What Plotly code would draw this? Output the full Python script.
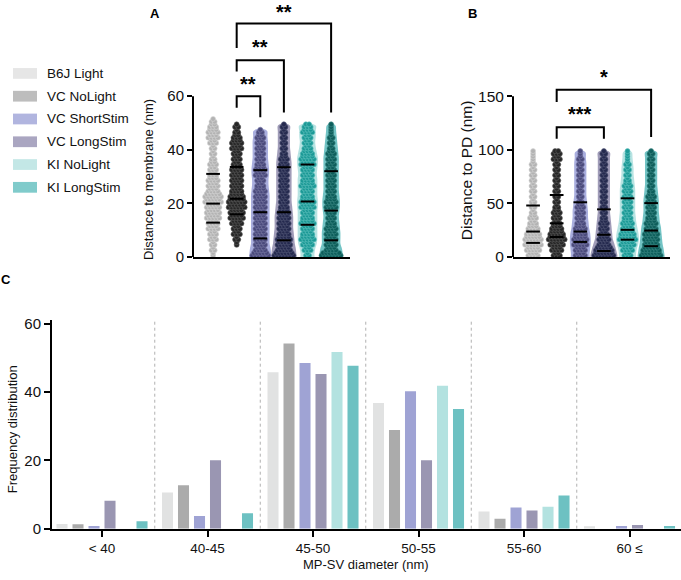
import plotly.graph_objects as go

# ---------------- DATA ----------------
groups = ["B6J Light", "VC NoLight", "VC ShortStim", "VC LongStim", "KI NoLight", "KI LongStim"]
size_bins = ["< 40", "40-45", "45-50", "50-55", "55-60", "60 ≤"]

# Panel C: frequency distribution of MP-SV diameter
freq_b6j_light = [1.4, 10.6, 45.8, 36.8, 5.0, 0.7]
freq_vc_nolight = [1.3, 12.7, 54.2, 28.9, 2.9, 0.0]
freq_vc_shortstim = [0.8, 3.7, 48.5, 40.2, 6.2, 0.8]
freq_vc_longstim = [8.2, 20.0, 45.3, 20.0, 5.3, 1.1]
freq_ki_nolight = [0.0, 0.0, 51.7, 41.8, 6.4, 0.0]
freq_ki_longstim = [2.2, 4.5, 47.7, 35.0, 9.7, 0.8]

# Panel A: distance to membrane, counts per 2 nm bin (0-52 nm), estimated
memb_bin = 2.0
memb_b6j_light = [1, 2, 2, 3, 3, 4, 4, 5, 5, 5, 6, 6, 4, 4, 4, 3, 3, 3, 2, 2, 2, 3, 4, 4, 3, 2]
memb_vc_nolight = [0, 0, 1, 2, 3, 3, 4, 5, 5, 6, 6, 5, 4, 4, 4, 4, 4, 3, 3, 3, 4, 4, 3, 2, 2, 0]
memb_vc_shortstim = [6, 4, 4, 4, 4, 4, 4, 4, 4, 4, 4, 4, 4, 3, 3, 4, 4, 3, 3, 3, 3, 3, 3, 2, 0, 0]
memb_vc_longstim = [7, 5, 5, 5, 4, 4, 4, 4, 4, 3, 3, 3, 3, 3, 3, 3, 3, 3, 3, 2, 2, 2, 2, 2, 2, 0]
memb_ki_nolight = [2, 3, 4, 5, 4, 4, 5, 4, 4, 5, 5, 4, 4, 5, 4, 4, 4, 5, 5, 4, 3, 3, 3, 4, 3, 0]
memb_ki_longstim = [7, 4, 4, 4, 4, 4, 3, 3, 3, 4, 4, 3, 3, 3, 3, 3, 3, 3, 3, 3, 2, 2, 2, 1, 1, 0]
memb_q1 = [12.8, 15.9, 6.9, 6.2, 12.0, 6.2]
memb_median = [19.9, 21.7, 16.7, 16.7, 20.7, 17.3]
memb_q3 = [31.0, 33.6, 32.4, 33.5, 34.5, 32.0]

# Panel B: distance to PD, counts per 5 nm bin (0-100 nm), estimated
pd_bin = 5.0
pd_b6j_light = [4, 5, 6, 6, 5, 4, 3, 3, 2, 2, 2, 2, 2, 2, 2, 2, 2, 2, 1, 1]
pd_vc_nolight = [3, 4, 5, 6, 5, 4, 3, 3, 3, 2, 2, 2, 2, 2, 2, 2, 2, 2, 3, 3]
pd_vc_shortstim = [4, 4, 5, 5, 4, 4, 3, 3, 3, 3, 2, 2, 2, 2, 2, 2, 2, 2, 2, 1]
pd_vc_longstim = [7, 6, 4, 4, 3, 3, 3, 2, 2, 2, 2, 2, 2, 2, 2, 2, 2, 2, 2, 2]
pd_ki_nolight = [3, 4, 5, 6, 5, 4, 4, 3, 3, 3, 3, 3, 3, 3, 2, 2, 2, 2, 1, 1]
pd_ki_longstim = [7, 6, 5, 5, 5, 4, 4, 3, 3, 3, 3, 3, 2, 2, 2, 2, 2, 2, 2, 2]
pd_q1 = [13.1, 18.6, 14.0, 5.5, 16.1, 10.0]
pd_median = [23.7, 31.4, 23.7, 20.7, 25.3, 24.6]
pd_q3 = [48.0, 57.8, 51.0, 44.4, 54.7, 50.2]

# significance comparisons: (group i, group j, label)
memb_comparisons = [(1, 2, "**"), (1, 3, "**"), (1, 5, "**")]
pd_comparisons = [(1, 3, "***"), (1, 5, "*")]

# ---------------- STYLE ----------------
W, H = 681, 580
FONT = "Liberation Sans, Arial, Helvetica, sans-serif"
bar_colors = ["#e1e2e2", "#ababab", "#9fa3d4", "#9a96b2", "#b3e2e0", "#6dc1c2"]
legend_colors = ["#e6e6e6", "#bdbdbd", "#b1b5df", "#aaa6c1", "#c3e7e6", "#80cbcb"]
dot_colors = ["#b3b3b3", "#262626", "#4a4a7c", "#252a4f", "#1c9996", "#0d5e5b"]
dot_edges = ["#d6d6d6", "#5c5c5c", "#7c7ca6", "#555a78", "#63c3c0", "#3f8b88"]
violin_fills = [None, None, "rgba(160,165,218,0.9)", "rgba(155,151,180,0.95)",
                "rgba(179,226,224,0.95)", "rgba(108,193,194,0.95)"]

XR = [-0.85, 5.8]
PX_PER_UNIT = 157 / (XR[1] - XR[0])
SPACING = 3.2 / PX_PER_UNIT
PAD = 4.5 / PX_PER_UNIT

fig = go.Figure()


def swarm(center, counts, bin_h):
    xs, ys = [], []
    for k, n in enumerate(counts):
        if n <= 0:
            continue
        yc = (k + 0.5) * bin_h
        for j in range(n):
            xs.append(center + (j - (n - 1) / 2) * SPACING)
            ys.append(yc - bin_h / 4)
        m = max(n - 1, 1)
        for j in range(m):
            xs.append(center + (j - (m - 1) / 2) * SPACING)
            ys.append(yc + bin_h / 4)
    return xs, ys


def outline(center, counts, bin_h):
    nz = [k for k, n in enumerate(counts) if n > 0]
    k0, k1 = nz[0], nz[-1]
    raw = [((max(counts[k], 1) - 1) / 2) * SPACING + PAD for k in range(k0, k1 + 1)]
    sm = []
    for i in range(len(raw)):
        win = raw[max(0, i - 1):i + 2]
        sm.append(sum(win) / len(win))
    ys = [(k + 0.5) * bin_h for k in range(k0, k1 + 1)]
    bottom, top = k0 * bin_h, (k1 + 1) * bin_h
    px = [center - sm[0], center + sm[0]] + [center + w for w in sm] + [center] + [center - w for w in sm[::-1]] + [center - sm[0]]
    py = [bottom, bottom] + ys + [top] + ys[::-1] + [bottom]
    return px, py


def add_panel(series, bin_h, q1, med, q3, comps, bracket_geo, xa, ya):
    for i, counts in enumerate(series):
        if violin_fills[i]:
            vx, vy = outline(i, counts, bin_h)
            fig.add_trace(go.Scatter(x=vx, y=vy, mode="lines", fill="toself",
                                     fillcolor=violin_fills[i], line=dict(width=0, shape="spline", smoothing=0.8),
                                     xaxis=xa, yaxis=ya, hoverinfo="skip", showlegend=False))
        sx, sy = swarm(i, counts, bin_h)
        fig.add_trace(go.Scatter(x=sx, y=sy, mode="markers", cliponaxis=False,
                                 marker=dict(size=5, color=dot_colors[i], line=dict(width=0.6, color=dot_edges[i])),
                                 xaxis=xa, yaxis=ya, hoverinfo="skip", showlegend=False))
    lx, ly = [], []
    for i in range(len(series)):
        for v in (q1[i], med[i], q3[i]):
            lx += [i - 0.29, i + 0.29, None]
            ly += [v, v, None]
    fig.add_trace(go.Scatter(x=lx, y=ly, mode="lines", line=dict(color="black", width=2),
                             xaxis=xa, yaxis=ya, hoverinfo="skip", showlegend=False, cliponaxis=False))
    for (i, j, lab), (top, lb, rb, sy) in zip(comps, bracket_geo):
        fig.add_trace(go.Scatter(x=[i, i, j, j], y=[lb, top, top, rb], mode="lines",
                                 line=dict(color="black", width=2),
                                 xaxis=xa, yaxis=ya, hoverinfo="skip", showlegend=False))
        fig.add_annotation(x=(i + j) / 2, y=sy, xref=xa, yref=ya, text="<b>%s</b>" % lab, showarrow=False,
                           font=dict(family=FONT, size=20, color="black"), xanchor="center", yanchor="middle")


memb_series = [memb_b6j_light, memb_vc_nolight, memb_vc_shortstim, memb_vc_longstim, memb_ki_nolight, memb_ki_longstim]
pd_series = [pd_b6j_light, pd_vc_nolight, pd_vc_shortstim, pd_vc_longstim, pd_ki_nolight, pd_ki_longstim]

memb_brackets = [(60.0, 55.7, 52.1, 64.6), (73.4, 69.2, 53.9, 78.5), (87.1, 78.0, 53.9, 91.6)]
pd_brackets = [(121.0, 110.4, 110.4, 133.2), (156.0, 144.5, 112.0, 168.2)]

add_panel(memb_series, memb_bin, memb_q1, memb_median, memb_q3, memb_comparisons, memb_brackets, "x", "y")
add_panel(pd_series, pd_bin, pd_q1, pd_median, pd_q3, pd_comparisons, pd_brackets, "x2", "y2")

# Panel C bars
freqs = [freq_b6j_light, freq_vc_nolight, freq_vc_shortstim, freq_vc_longstim, freq_ki_nolight, freq_ki_longstim]
for g, vals, col in zip(groups, freqs, bar_colors):
    fig.add_trace(go.Bar(x=list(range(len(size_bins))), y=vals, name=g, marker=dict(color=col, line=dict(width=0)),
                         xaxis="x3", yaxis="y3", showlegend=False, hoverinfo="skip"))

# dotted separators in C
for k in range(len(size_bins) - 1):
    fig.add_shape(type="line", xref="x3", yref="y3", x0=k + 0.5, x1=k + 0.5, y0=0, y1=61,
                  line=dict(color="#b0b0b0", width=1, dash="dot"), layer="below")

# y axis lines limited to tick range in A and B
fig.add_shape(type="line", xref="x domain", yref="y", x0=0, x1=0, y0=0, y1=60, line=dict(color="black", width=2))
fig.add_shape(type="line", xref="x2 domain", yref="y2", x0=0, x1=0, y0=0, y1=150, line=dict(color="black", width=2))

# custom legend
for k, (g, col) in enumerate(zip(groups, legend_colors)):
    yc = 70 + k * 23.3
    fig.add_shape(type="rect", xref="paper", yref="paper", x0=13 / W, x1=37 / W,
                  y0=1 - (yc + 5.5) / H, y1=1 - (yc - 5.5) / H, fillcolor=col, line=dict(width=0))
    fig.add_annotation(x=45 / W, y=1 - yc / H, xref="paper", yref="paper", text=g, showarrow=False,
                       xanchor="left", yanchor="middle", font=dict(family=FONT, size=13.5, color="#111"))

# panel letters and axis titles
for txt, x, y in [("A", 155, 9), ("B", 473, 9), ("C", 6, 281)]:
    fig.add_annotation(x=x / W, y=1 - y / H, xref="paper", yref="paper", text="<b>%s</b>" % txt, showarrow=False,
                       xanchor="center", yanchor="middle", font=dict(family=FONT, size=13, color="black"))
for txt, x, y, ang, sz in [("Distance to membrane (nm)", 149, 179, -90, 13),
                           ("Distance to PD (nm)", 466, 169, -90, 15.5),
                           ("Frequency distribution", 12, 434, -90, 13),
                           ("MP-SV diameter (nm)", 366, 572, 0, 13)]:
    fig.add_annotation(x=x / W, y=1 - y / H, xref="paper", yref="paper", text=txt, showarrow=False,
                       xanchor="center", yanchor="middle",
                       textangle=ang, font=dict(family=FONT, size=sz, color="#111"))

axis_common = dict(showgrid=False, zeroline=False, linecolor="black", linewidth=2,
                   tickcolor="black", tickwidth=2)
fig.update_layout(
    width=W, height=H, autosize=False,
    margin=dict(l=0, r=0, t=0, b=0),
    paper_bgcolor="white", plot_bgcolor="rgba(0,0,0,0)",
    font=dict(family=FONT, color="#111"),
    barmode="group", bargap=0.09, bargroupgap=0.31,
    xaxis=dict(domain=[193 / W, 350 / W], range=XR, showline=True, showticklabels=False, ticks="",
               anchor="y", **axis_common),
    yaxis=dict(domain=[1 - 257.7 / H, 1], range=[0, 257.7 / 2.74], showline=False,
               tickvals=[0, 20, 40, 60], ticks="outside", ticklen=5, tickfont=dict(size=15),
               anchor="x", **axis_common),
    xaxis2=dict(domain=[513 / W, 670 / W], range=XR, showline=True, showticklabels=False, ticks="",
                anchor="y2", **axis_common),
    yaxis2=dict(domain=[1 - 257.7 / H, 1], range=[0, 257.7 / 1.096], showline=False,
                tickvals=[0, 50, 100, 150], ticks="outside", ticklen=5, tickfont=dict(size=15.5),
                anchor="x2", **axis_common),
    xaxis3=dict(domain=[52 / W, 1], range=[-0.474, 5.488], showline=True,
                tickvals=list(range(len(size_bins))), ticktext=size_bins, ticks="outside", ticklen=6,
                tickfont=dict(size=13.5), anchor="y3", **axis_common),
    yaxis3=dict(domain=[1 - 535.7 / H, 1 - 322.5 / H], range=[0, 61], showline=True,
                tickvals=[0, 20, 40, 60], ticks="outside", ticklen=6, tickfont=dict(size=15),
                anchor="x3", **axis_common),
)

fig.write_html("out.html", config={"displayModeBar": False},
               post_script="document.body.style.margin='0px';document.body.style.overflow='hidden';")
